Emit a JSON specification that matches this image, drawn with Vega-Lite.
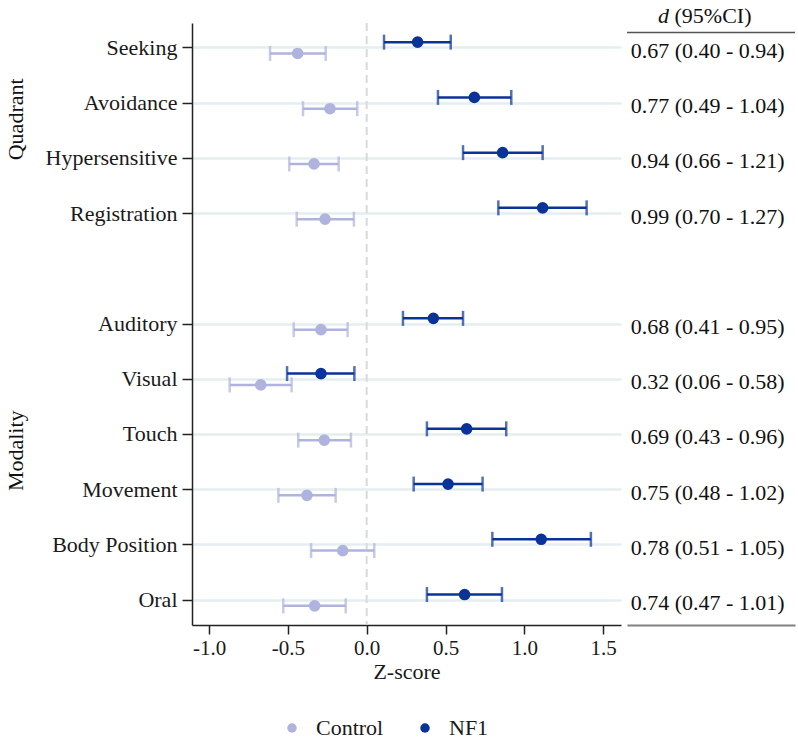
{
  "$schema": "https://vega.github.io/schema/vega-lite/v6.json",
  "padding": {"left": 5, "top": 4, "right": 5, "bottom": 5},
  "config": {
    "font": "Liberation Serif, serif",
    "view": {"stroke": null},
    "text": {"font": "Liberation Serif, serif", "color": "#111"},
    "legend": {"labelFont": "Liberation Serif, serif"},
    "axis": {"labelFont": "Liberation Serif, serif", "titleFont": "Liberation Serif, serif"}
  },
  "datasets": {
    "est": [
      {"domain": "Seeking", "group": "NF1", "z": 0.323, "lo": 0.110, "hi": 0.533},
      {"domain": "Seeking", "group": "Control", "z": -0.438, "lo": -0.613, "hi": -0.260},
      {"domain": "Avoidance", "group": "NF1", "z": 0.683, "lo": 0.452, "hi": 0.917},
      {"domain": "Avoidance", "group": "Control", "z": -0.233, "lo": -0.404, "hi": -0.060},
      {"domain": "Hypersensitive", "group": "NF1", "z": 0.862, "lo": 0.611, "hi": 1.116},
      {"domain": "Hypersensitive", "group": "Control", "z": -0.334, "lo": -0.491, "hi": -0.178},
      {"domain": "Registration", "group": "NF1", "z": 1.116, "lo": 0.835, "hi": 1.395},
      {"domain": "Registration", "group": "Control", "z": -0.264, "lo": -0.444, "hi": -0.081},
      {"domain": "Auditory", "group": "NF1", "z": 0.423, "lo": 0.230, "hi": 0.611},
      {"domain": "Auditory", "group": "Control", "z": -0.290, "lo": -0.463, "hi": -0.121},
      {"domain": "Visual", "group": "NF1", "z": -0.290, "lo": -0.505, "hi": -0.078},
      {"domain": "Visual", "group": "Control", "z": -0.672, "lo": -0.869, "hi": -0.476},
      {"domain": "Touch", "group": "NF1", "z": 0.634, "lo": 0.382, "hi": 0.885},
      {"domain": "Touch", "group": "Control", "z": -0.269, "lo": -0.434, "hi": -0.100},
      {"domain": "Movement", "group": "NF1", "z": 0.516, "lo": 0.298, "hi": 0.735},
      {"domain": "Movement", "group": "Control", "z": -0.379, "lo": -0.560, "hi": -0.197},
      {"domain": "Body Position", "group": "NF1", "z": 1.107, "lo": 0.797, "hi": 1.422},
      {"domain": "Body Position", "group": "Control", "z": -0.152, "lo": -0.353, "hi": 0.048},
      {"domain": "Oral", "group": "NF1", "z": 0.621, "lo": 0.382, "hi": 0.858},
      {"domain": "Oral", "group": "Control", "z": -0.330, "lo": -0.529, "hi": -0.133}
    ],
    "tbl": [
      {"domain": "Seeking", "d": "0.67 (0.40 - 0.94)"},
      {"domain": "Avoidance", "d": "0.77 (0.49 - 1.04)"},
      {"domain": "Hypersensitive", "d": "0.94 (0.66 - 1.21)"},
      {"domain": "Registration", "d": "0.99 (0.70 - 1.27)"},
      {"domain": "Auditory", "d": "0.68 (0.41 - 0.95)"},
      {"domain": "Visual", "d": "0.32 (0.06 - 0.58)"},
      {"domain": "Touch", "d": "0.69 (0.43 - 0.96)"},
      {"domain": "Movement", "d": "0.75 (0.48 - 1.02)"},
      {"domain": "Body Position", "d": "0.78 (0.51 - 1.05)"},
      {"domain": "Oral", "d": "0.74 (0.47 - 1.01)"}
    ]
  },
  "spacing": 5,
  "resolve": {"scale": {"x": "independent", "y": "independent"}, "axis": {"x": "independent", "y": "independent"}},
  "hconcat": [
    {
      "width": 429,
      "height": 602,
      "encoding": {
        "y": {
          "field": "domain", "type": "nominal", "title": null,
          "scale": {"type": "band", "domain": ["Seeking", "Avoidance", "Hypersensitive", "Registration", " ", "Auditory", "Visual", "Touch", "Movement", "Body Position", "Oral"], "paddingInner": 0.591, "paddingOuter": 0.2445},
          "axis": {
            "title": null, "labelFontSize": 22, "labelColor": "#1a1a1a", "labelPadding": 5,
            "tickSize": 10, "tickWidth": 1.5, "tickColor": "#222", "domainColor": "#222", "domainWidth": 1.5,
            "grid": true, "gridColor": "#e4eef0", "gridWidth": 2.5, "bandPosition": 0.5,
            "gridOpacity": {"condition": {"test": "datum.value === ' '", "value": 0}, "value": 1},
            "tickOpacity": {"condition": {"test": "datum.value === ' '", "value": 0}, "value": 1}
          }
        },
        "x": {
          "type": "quantitative",
          "scale": {"domain": [-1.108, 1.613], "nice": false, "zero": false},
          "axis": {
            "title": "Z-score", "values": [-1, -0.5, 0, 0.5, 1, 1.5], "format": ".1f",
            "labelExpr": "replace(datum.label, '\u2212', '-')",
            "labelFont": "Liberation Serif, serif", "titleFont": "Liberation Serif, serif",
            "labelFontSize": 21, "labelColor": "#1a1a1a", "titleFontSize": 22, "titleFontWeight": "normal", "titleColor": "#1a1a1a",
            "tickSize": 9, "tickWidth": 1.5, "tickColor": "#222", "domainColor": "#222", "domainWidth": 1.5,
            "labelPadding": 3, "titlePadding": 3, "grid": false
          }
        }
      },
      "layer": [
        {
          "data": {"values": [{"ref": 0}]},
          "mark": {"type": "rule", "color": "#dadada", "strokeWidth": 2, "strokeDash": [8, 5]},
          "encoding": {"x": {"field": "ref", "type": "quantitative"}, "y": null}
        },
        {
          "data": {"name": "est"},
          "mark": {"type": "rule", "strokeWidth": 2.5},
          "encoding": {
            "x": {"field": "lo", "type": "quantitative"},
            "x2": {"field": "hi"},
            "yOffset": {"field": "group", "type": "nominal", "scale": {"domain": ["NF1", "Control"]}},
            "stroke": {"condition": {"test": "datum.group === 'NF1'", "value": "#0a3399"}, "value": "#afb3dd"}
          }
        },
        {
          "data": {"name": "est"},
          "mark": {"type": "tick", "thickness": 2.5, "size": 15, "orient": "vertical"},
          "encoding": {
            "x": {"field": "lo", "type": "quantitative"},
            "yOffset": {"field": "group", "type": "nominal", "scale": {"domain": ["NF1", "Control"]}},
            "fill": {"condition": {"test": "datum.group === 'NF1'", "value": "#0a3399"}, "value": "#afb3dd"}
          }
        },
        {
          "data": {"name": "est"},
          "mark": {"type": "tick", "thickness": 2.5, "size": 15, "orient": "vertical"},
          "encoding": {
            "x": {"field": "hi", "type": "quantitative"},
            "yOffset": {"field": "group", "type": "nominal", "scale": {"domain": ["NF1", "Control"]}},
            "fill": {"condition": {"test": "datum.group === 'NF1'", "value": "#0a3399"}, "value": "#afb3dd"}
          }
        },
        {
          "data": {"name": "est"},
          "mark": {"type": "point", "filled": true, "size": 135, "opacity": 1, "shape": "circle"},
          "encoding": {
            "x": {"field": "z", "type": "quantitative"},
            "yOffset": {"field": "group", "type": "nominal", "scale": {"domain": ["NF1", "Control"]}},
            "color": {
              "field": "group", "type": "nominal",
              "scale": {"domain": ["Control", "NF1"], "range": ["#afb3dd", "#0a3399"]},
              "legend": {
                "title": null, "orient": "none", "direction": "horizontal", "legendX": 89, "legendY": 694,
                "symbolType": "circle", "symbolSize": 90, "symbolOpacity": 1, "labelFont": "Liberation Serif, serif", "labelFontSize": 22, "labelColor": "#1a1a1a",
                "labelOffset": 13, "columnPadding": 30
              }
            }
          }
        },
        {
          "data": {"values": [{"s": "Quadrant"}]},
          "mark": {"type": "text", "angle": 270, "fontSize": 22, "align": "center", "baseline": "middle"},
          "encoding": {
            "x": {"datum": -2.224, "type": "quantitative"},
            "y": {"datum": "Avoidance", "type": "nominal"},
            "yOffset": {"value": 27.6},
            "text": {"field": "s"}
          }
        },
        {
          "data": {"values": [{"s": "Modality"}]},
          "mark": {"type": "text", "angle": 270, "fontSize": 22, "align": "center", "baseline": "middle"},
          "encoding": {
            "x": {"datum": -2.224, "type": "quantitative"},
            "y": {"datum": "Touch", "type": "nominal"},
            "yOffset": {"value": 27.6},
            "text": {"field": "s"}
          }
        }
      ]
    },
    {
      "width": 168,
      "height": 602,
      "encoding": {
        "y": {
          "field": "domain", "type": "nominal", "title": null,
          "scale": {"type": "band", "domain": ["Seeking", "Avoidance", "Hypersensitive", "Registration", " ", "Auditory", "Visual", "Touch", "Movement", "Body Position", "Oral"], "paddingInner": 0.591, "paddingOuter": 0.2445},
          "axis": null
        },
        "x": {
          "type": "quantitative",
          "scale": {"domain": [0, 1], "nice": false, "zero": false},
          "axis": {"title": null, "labels": false, "ticks": false, "grid": false, "domainColor": "#808080", "domainWidth": 2}
        }
      },
      "layer": [
        {
          "data": {"name": "tbl"},
          "mark": {"type": "text", "fontSize": 22, "align": "center", "baseline": "middle", "dy": 3},
          "encoding": {"x": {"datum": 0.48, "type": "quantitative"}, "text": {"field": "d"}}
        },
        {
          "data": {"values": [{"h": "d"}]},
          "mark": {"type": "text", "fontSize": 22, "fontStyle": "italic", "align": "left", "baseline": "alphabetic", "dy": -25},
          "encoding": {"x": {"datum": 0.185, "type": "quantitative"}, "y": {"datum": "Seeking", "type": "nominal"}, "text": {"field": "h"}}
        },
        {
          "data": {"values": [{"h": "(95%CI)"}]},
          "mark": {"type": "text", "fontSize": 22, "align": "left", "baseline": "alphabetic", "dy": -25},
          "encoding": {"x": {"datum": 0.283, "type": "quantitative"}, "y": {"datum": "Seeking", "type": "nominal"}, "text": {"field": "h"}}
        },
        {
          "data": {"values": [{"a": 0, "b": 1}]},
          "mark": {"type": "rule", "color": "#555", "strokeWidth": 1.5},
          "encoding": {"x": {"field": "a", "type": "quantitative"}, "x2": {"field": "b"}, "y": {"datum": "Seeking", "type": "nominal"}, "yOffset": {"value": -4}}
        }
      ]
    }
  ]
}
